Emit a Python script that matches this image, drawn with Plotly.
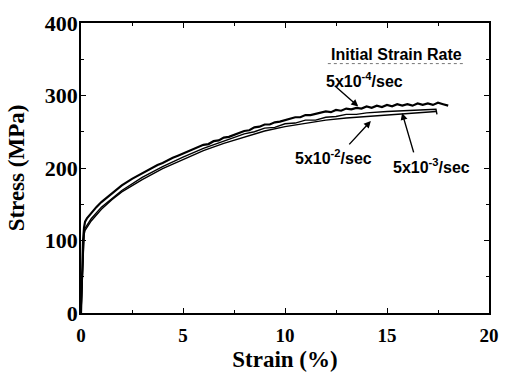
import plotly.graph_objects as go

# Stress-strain curves at three initial strain rates
strain_r4 = [0, 0.03, 0.06, 0.1, 0.15, 0.2, 0.3, 0.5, 0.75, 1.0, 1.5, 2.0, 2.5,
             3.0, 3.25, 3.5, 3.75, 4.0, 4.25, 4.5, 4.75, 5.0, 5.25, 5.5, 5.75,
             6.0, 6.25, 6.5, 6.75, 7.0, 7.25, 7.5, 7.75, 8.0, 8.25, 8.5, 8.75,
             9.0, 9.25, 9.5, 9.75, 10.0, 10.25, 10.5, 10.75, 11.0, 11.25, 11.5, 11.75,
             12.0, 12.25, 12.5, 12.75, 13.0, 13.25, 13.5, 13.75, 14.0, 14.25, 14.5, 14.75,
             15.0, 15.25, 15.5, 15.75, 16.0, 16.25, 16.5, 16.75, 17.0, 17.25, 17.5, 17.75, 18.0]
stress_r4 = [0, 30, 65, 100, 118, 126, 131, 138, 146, 153, 165, 176, 185,
             193, 197, 200, 204, 207, 211, 214, 217, 220, 223, 226, 228,
             232, 233, 237, 238, 242, 243, 246, 248, 251, 252, 256, 257,
             260, 260, 263, 264, 266, 267, 270, 270, 273, 273, 275, 276,
             278, 277, 280, 279, 282, 281, 283, 282, 285, 283, 286, 284,
             287, 285, 288, 286, 288, 286, 289, 287, 289, 287, 290, 288, 286]

strain_r3 = [0, 0.03, 0.06, 0.1, 0.15, 0.2, 0.3, 0.5, 1.0, 1.5, 2.0, 3.0, 4.0, 5.0,
             6.0, 7.0, 8.0, 8.5, 9.0, 9.5, 10.0, 10.5, 11.0, 11.5, 12.0, 12.5, 13.0,
             13.5, 14.0, 15.0, 16.0, 17.0, 17.4, 17.45]
stress_r3 = [0, 28, 60, 95, 112, 117, 121, 130, 146, 158, 169, 187, 202, 215,
             227, 237, 247, 250, 255, 256, 261, 262, 266, 266, 270, 271, 274,
             274, 276, 278, 279, 280, 281, 274]

strain_r2 = [0, 0.03, 0.06, 0.1, 0.15, 0.2, 0.3, 0.5, 1.0, 1.5, 2.0, 3.0, 4.0, 5.0,
             6.0, 7.0, 8.0, 9.0, 10.0, 11.0, 12.0, 13.0, 14.0, 15.0, 16.0, 17.0, 17.4]
stress_r2 = [0, 25, 55, 90, 108, 114, 119, 127, 143, 156, 167, 184, 199, 212,
             224, 234, 243, 251, 257, 262, 266, 269, 271, 273, 275, 277, 278]

x_ticks = [0, 5, 10, 15, 20]
y_ticks = [0, 100, 200, 300, 400]

fig = go.Figure()
for xs, ys, w in [(strain_r2, stress_r2, 1.4), (strain_r3, stress_r3, 1.4),
                  (strain_r4, stress_r4, 2.2)]:
    fig.add_trace(go.Scatter(x=xs, y=ys, mode="lines",
                             line=dict(color="black", width=w),
                             showlegend=False, hoverinfo="skip"))

title_font = dict(family="Liberation Serif", size=23, color="black")
axis_common = dict(showline=True, linecolor="black", linewidth=1.5, mirror="ticks",
                   ticks="inside", ticklen=5, tickcolor="black", tickwidth=1.2,
                   showgrid=False, zeroline=False,
                   minor=dict(ticks="inside", ticklen=3, tickcolor="black", tickwidth=1))

fig.update_xaxes(range=[0, 20], tickvals=x_ticks, ticktext=[f"<b>{v}</b>" for v in x_ticks],
                 minor_dtick=2.5, ticklabelstandoff=4,
                 tickfont=dict(family="Liberation Serif", size=19, color="black"),
                 title=dict(text="<b>Strain (%)</b>", font=title_font, standoff=6),
                 **axis_common)
fig.update_yaxes(range=[0, 400], tickvals=y_ticks, ticktext=[f"<b>{v}</b>" for v in y_ticks],
                 minor_dtick=50, ticklabelstandoff=-3,
                 tickfont=dict(family="Liberation Serif", size=22, color="black"),
                 title=dict(text="<b>Stress (MPa)</b>", font=title_font, standoff=14),
                 **axis_common)

label_font = dict(family="Liberation Sans", size=16, color="black")
fig.add_annotation(x=15.45, y=356, xref="x", yref="y", text="<b>Initial Strain Rate</b>",
                   showarrow=False, font=label_font)
fig.add_shape(type="line", x0=12.1, x1=18.8, y0=344, y1=344, xref="x", yref="y",
              line=dict(color="#777777", width=1, dash="dot"))

# rate labels
fig.add_annotation(x=13.92, y=321, text="<b>5x10<sup>-4</sup>/sec</b>", showarrow=False, font=label_font)
fig.add_annotation(x=12.39, y=215, text="<b>5x10<sup>-2</sup>/sec</b>", showarrow=False, font=label_font)
fig.add_annotation(x=17.18, y=203, text="<b>5x10<sup>-3</sup>/sec</b>", showarrow=False, font=label_font)

# pointer arrows from labels to curves
arrow_style = dict(text="", showarrow=True, arrowhead=2, arrowsize=1, arrowwidth=1.4,
                   arrowcolor="black", axref="pixel", ayref="pixel")
fig.add_annotation(x=13.59, y=285, ax=-25, ay=-22, **arrow_style)
fig.add_annotation(x=14.21, y=265, ax=-23, ay=25, **arrow_style)
fig.add_annotation(x=15.74, y=276, ax=12, ay=41, **arrow_style)

fig.update_layout(width=510, height=379, margin=dict(l=81, r=11, t=18, b=58),
                  plot_bgcolor="white", paper_bgcolor="white")

fig.write_html("out.html")
